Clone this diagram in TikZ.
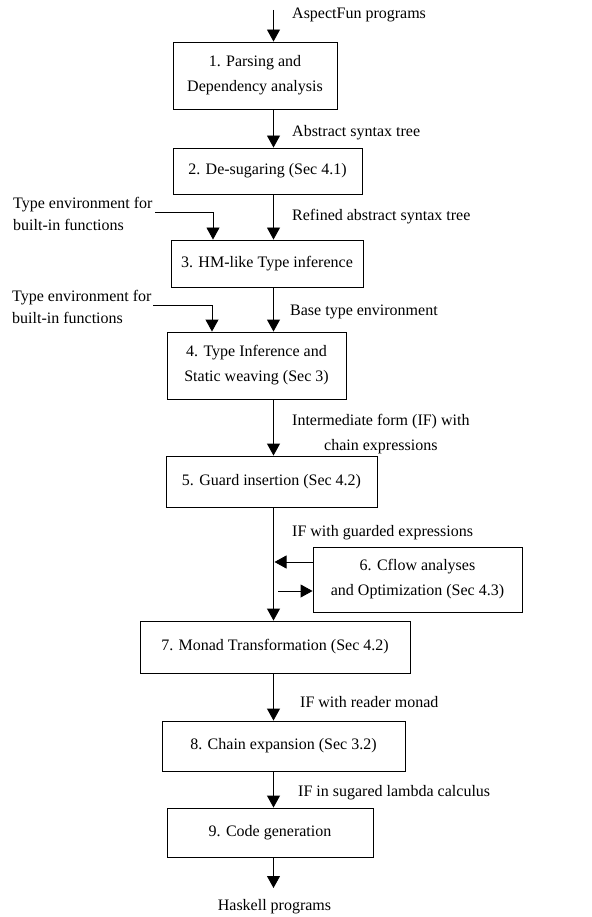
\documentclass[tikz,border=0pt]{standalone}
\usepackage{fontspec}
\setmainfont{Liberation Serif}
\usetikzlibrary{arrows.meta,calc}
\begin{document}
\begin{tikzpicture}[x=1pt,y=-1pt,
  box/.style={draw, line width=0.9pt, inner sep=0pt, align=center, font=\fontsize{16}{25}\selectfont},
  lbl/.style={inner sep=0pt, anchor=west, font=\fontsize{16}{22}\selectfont},
  arr/.style={line width=0.9pt, -{Triangle[width=13pt,length=12pt]}}]
\useasboundingbox (0,0) rectangle (591,917);
\coordinate (ax) at (273.5,0);
% boxes
\node[box, minimum width=164pt, minimum height=67pt] (b1) at (255,75.5) {1. Parsing and\\Dependency analysis};
\node[box, minimum width=189pt, minimum height=46pt] (b2) at (267.5,171) {2. De-sugaring (Sec 4.1)};
\node[box, minimum width=192pt, minimum height=47pt] (b3) at (267,263.5) {3. HM-like Type inference};
\node[box, minimum width=179pt, minimum height=67pt] (b4) at (256.5,365.5) {4. Type Inference and\\Static weaving (Sec 3)};
\node[box, minimum width=211pt, minimum height=51pt] (b5) at (271.5,481.5) {5. Guard insertion (Sec 4.2)};
\node[box, minimum width=209pt, minimum height=65pt] (b6) at (417.5,579.5) {6. Cflow analyses\\and Optimization (Sec 4.3)};
\node[box, minimum width=270pt, minimum height=52pt] (b7) at (275,647) {7. Monad Transformation (Sec 4.2)};
\node[box, minimum width=243pt, minimum height=50pt] (b8) at (283.5,746) {8. Chain expansion (Sec 3.2)};
\node[box, minimum width=206pt, minimum height=49pt] (b9) at (270,832.5) {9. Code generation};
% labels
\node[lbl] (lin) at (292,15) {AspectFun programs};
\node[lbl] (l1) at (292,133) {Abstract syntax tree};
\node[lbl] (l2) at (292,217) {Refined abstract syntax tree};
\node[lbl] (l3) at (290,312) {Base type environment};
\node[lbl, align=center, font=\fontsize{16}{25}\selectfont] (l4) at (292,434.5) {Intermediate form (IF) with\\chain expressions};
\node[lbl] (l5) at (292,533) {IF with guarded expressions};
\node[lbl] (l7) at (300,702) {IF with reader monad};
\node[lbl] (l8) at (298,793) {IF in sugared lambda calculus};
\node[lbl, anchor=center] (lout) at (274.5,907) {Haskell programs};
\node[lbl, align=left] (te1) at (13,214) {Type environment for\\built-in functions};
\node[lbl, align=left] (te2) at (12,306.5) {Type environment for\\built-in functions};
% main flow
\coordinate (in) at (273.5,10);
\draw[arr] (in) -- (in |- b1.north);
\draw[arr] (b1.south -| ax) -- (b2.north -| ax);
\draw[arr] (b2.south -| ax) -- (b3.north -| ax);
\draw[arr] (b3.south -| ax) -- (b4.north -| ax);
\draw[arr] (b4.south -| ax) -- (b5.north -| ax);
\draw[arr] (b5.south -| ax) -- (b7.north -| ax);
\draw[arr] (b7.south -| ax) -- (b8.north -| ax);
\draw[arr] (b8.south -| ax) -- (b9.north -| ax);
\coordinate (out) at (273.5,888);
\draw[arr] (b9.south -| ax) -- (out);
% cflow loop
\coordinate (c6a) at (274.5,562);
\draw[arr] (b6.west |- c6a) -- (c6a);
\coordinate (c6b) at (278,591);
\draw[arr] (c6b) -- (b6.west |- c6b);
% type environments
\coordinate (t1s) at (155,212);
\coordinate (t1c) at (213,212);
\draw[arr] (t1s) -- (t1c) -- (t1c |- b3.north);
\coordinate (t2s) at (153,305);
\coordinate (t2c) at (212,305);
\draw[arr] (t2s) -- (t2c) -- (t2c |- b4.north);
\end{tikzpicture}
\end{document}
